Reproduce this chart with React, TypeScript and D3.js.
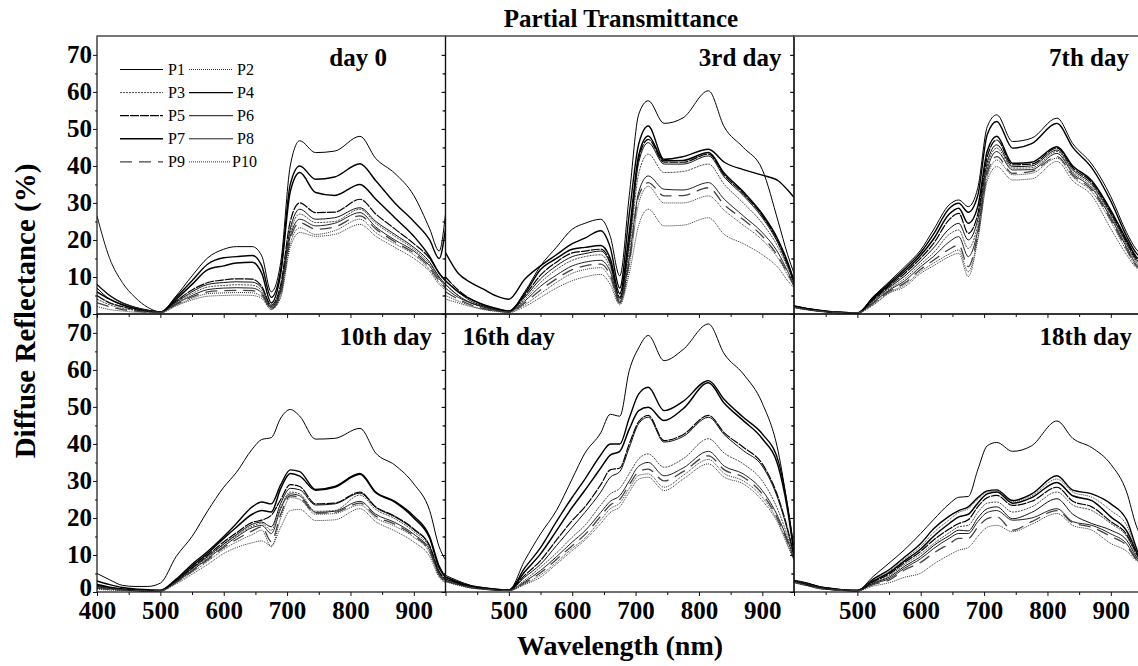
import React, { useEffect, useRef } from 'react';
import * as d3 from 'd3';

// wavelength grid (nm) shared by every spectrum
const wavelengths = [400, 420, 440, 460, 480, 500, 525, 550, 575, 600, 620, 645, 660, 675, 690, 705, 720, 745, 775, 815, 840, 870, 900, 925, 940, 950];

const seriesNames = ['P1', 'P2', 'P3', 'P4', 'P5', 'P6', 'P7', 'P8', 'P9', 'P10'];
const panelTitles = ['day 0', '3rd day', '7th day', '10th day', '16th day', '18th day'];
const yTicks = [0, 10, 20, 30, 40, 50, 60, 70];
const xTicks = [400, 500, 600, 700, 800, 900];

// diffuse reflectance (%) per sample, P1..P10
const day0 = [
  [7, 4, 2.5, 1.5, 0.8, 0.6, 4.9, 10.3, 15.2, 17.5, 18.2, 18.2, 15.7, 6, 14, 40, 46.8, 43.6, 44, 48, 42, 38, 32, 23, 17, 27],
  [2, 1.2, 0.8, 0.5, 0.4, 0.3, 2.2, 3.8, 4.8, 5, 5.1, 5, 4.2, 1.2, 4.5, 18, 22, 21, 21.5, 24.2, 21, 18, 15, 11.5, 8, 6.5],
  [4, 2.5, 1.5, 1, 0.6, 0.4, 3, 5.5, 7.3, 7.7, 7.9, 7.8, 6.3, 1.8, 6.5, 22, 27, 24.7, 25, 28.3, 24.5, 21, 17.5, 13.5, 10, 8],
  [8, 5, 3, 1.8, 1, 0.5, 4.5, 9, 13.5, 15.2, 15.5, 15.8, 13, 4.5, 12, 35, 40, 36.4, 37, 40.6, 36, 30, 25, 20, 15, 23],
  [5, 3, 2, 1.2, 0.7, 0.5, 3.5, 6.5, 8.5, 9.2, 9.5, 9.4, 7.5, 2.4, 8, 25, 30, 27.4, 27.5, 31, 27, 23, 19, 15, 11, 9],
  [26.5, 15, 8.5, 4.5, 1.8, 0.6, 3.2, 6, 8, 8.5, 8.7, 8.6, 7, 2, 7, 23, 28.3, 25.6, 26, 28.7, 25, 21.5, 18, 14, 10, 8],
  [6, 4, 2.5, 1.5, 0.9, 0.5, 4, 8, 12, 13, 13.8, 14, 11, 3, 11, 33, 38.2, 32.8, 32, 35, 31, 26, 21, 15.5, 11, 9],
  [8, 5, 3, 1.8, 1, 0.5, 2.8, 5, 6.6, 7, 7.1, 7, 5.7, 1.6, 6, 21, 25.6, 23.8, 24.5, 27.4, 23.5, 20, 17, 13, 9.5, 7.5],
  [3, 2, 1.2, 0.8, 0.5, 0.4, 2.6, 4.6, 6, 6.3, 6.4, 6.3, 5.2, 1.4, 5.5, 20, 24.7, 22.9, 23.5, 26.5, 23, 19.5, 16.5, 12.5, 9, 7],
  [5, 3, 2, 1.2, 0.7, 0.4, 2.4, 4.2, 5.5, 5.7, 5.8, 5.7, 4.7, 1.3, 5, 19, 23.3, 21.5, 22.5, 25.6, 22, 19, 16, 12, 8.5, 7],
];

const day3 = [
  [8, 5, 3, 2, 1, 0.7, 6, 13, 18, 22.9, 24.5, 25.6, 21, 10.3, 32, 54, 57.6, 51.5, 53, 60.3, 50.5, 45, 39, 25, 16, 11],
  [4, 3, 2, 1.2, 0.7, 0.4, 2, 4.5, 7, 9, 10, 10.7, 8, 2.5, 11, 24, 28.3, 23.8, 24, 26, 21.5, 19, 16, 12.5, 9, 7],
  [8, 5, 3, 2, 1.2, 0.6, 4, 8.5, 12, 14.5, 15.5, 16, 12.5, 3.5, 17, 38, 43.2, 38.2, 38.5, 40.5, 35, 30, 24.5, 18, 12.5, 8.5],
  [16.6, 11, 8.5, 6.7, 4.9, 4, 9.4, 13, 16, 19, 20.5, 22.5, 18, 7, 27, 46, 50.8, 41.8, 42.5, 44.5, 41, 39, 37.5, 36, 33.5, 31.5],
  [10, 6.5, 4, 2.5, 1.5, 0.8, 5, 10.5, 14, 16.5, 17, 17.5, 14, 4.5, 20, 42, 47.2, 41, 41, 43.2, 37.5, 32.5, 26.5, 19.5, 13.5, 9],
  [9, 6, 3.5, 2.2, 1.3, 0.7, 4.5, 9.5, 13, 15.5, 16.3, 17, 13.5, 4, 19, 41, 46.3, 40.5, 40.5, 42.7, 37, 32, 26, 19, 13, 8.5],
  [9, 6, 4, 2.5, 1.5, 0.8, 5.5, 12, 15, 17.5, 18, 18.5, 15, 5.5, 22, 43, 48.1, 41.4, 41.5, 43.6, 38, 33, 27, 20, 14, 9],
  [7, 4.5, 3, 1.8, 1, 0.6, 3.5, 7.5, 10.5, 13, 14, 14.5, 11.5, 3.2, 15, 33, 37.3, 33.7, 33.5, 35.5, 31, 26.5, 22, 16.5, 11.5, 8],
  [6, 4, 2.5, 1.5, 0.9, 0.5, 3, 6.5, 9.5, 12, 13, 13.5, 10.5, 3, 14, 32, 35.5, 31.9, 32, 34.1, 29.5, 25.5, 21, 15.5, 11, 7.5],
  [5, 3.5, 2.2, 1.3, 0.8, 0.5, 2.5, 5.5, 8.5, 11, 12, 12.5, 9.5, 2.8, 13, 30, 34.5, 30, 30, 31.9, 28, 24, 20, 15, 10.5, 7.5],
];

const day7 = [
  [2.2, 1.5, 1, 0.6, 0.4, 0.3, 4.7, 8.7, 12.8, 17.3, 22.7, 29.5, 30.8, 29, 34, 50.6, 53.8, 46.6, 47.5, 52.9, 46, 40.5, 31.7, 22, 17.5, 16],
  [1.7, 1.1, 0.7, 0.4, 0.3, 0.3, 2.4, 5.6, 7.4, 11, 13, 15.5, 16.4, 10.1, 20, 36, 39.8, 36.2, 36.5, 41.2, 36, 32, 23, 16, 12.5, 11.5],
  [1.9, 1.3, 0.8, 0.5, 0.35, 0.3, 3.3, 6.7, 9.6, 13.5, 16.5, 21.5, 22.7, 17.7, 24, 40, 44.8, 39.4, 39.5, 43.9, 38.5, 34.5, 26.5, 18.5, 14, 12.5],
  [2.2, 1.5, 1, 0.6, 0.4, 0.3, 4.5, 8.3, 12.2, 16.6, 21.5, 28.5, 29.9, 27.5, 32, 48.5, 52, 44.8, 46, 51.5, 45, 39.5, 30.5, 21, 16.5, 15],
  [2, 1.4, 0.9, 0.5, 0.4, 0.3, 3.9, 7.5, 11, 15.1, 19, 25.5, 27.2, 21.8, 27, 42.5, 47, 40.3, 40.5, 44.8, 39.5, 35.5, 27.5, 19.5, 15, 13.5],
  [2, 1.3, 0.8, 0.5, 0.35, 0.3, 3.6, 7.1, 10.3, 14.3, 17.8, 23, 24.5, 20, 25.5, 41, 45.7, 39.8, 40, 44.3, 39, 35, 27, 19, 14.5, 13],
  [2, 1.4, 0.9, 0.5, 0.4, 0.3, 4.2, 7.9, 11.6, 15.9, 20.2, 27, 28.6, 24.5, 29, 44, 48, 40.7, 41, 45.2, 40, 36, 28, 20, 15.5, 14],
  [1.9, 1.2, 0.8, 0.5, 0.35, 0.3, 3.1, 6.4, 9, 12.8, 15.5, 19.5, 20.9, 15.5, 22.5, 39, 43.9, 38.9, 39, 43.4, 38, 34, 26, 18, 13.5, 12.5],
  [1.8, 1.2, 0.8, 0.5, 0.3, 0.3, 2.9, 6.1, 8.4, 12.1, 14.5, 17.5, 18.6, 12.8, 21.5, 38, 42.5, 38, 38.5, 42.5, 37.5, 33.5, 25.5, 17.5, 13, 12],
  [1.8, 1.2, 0.7, 0.4, 0.3, 0.3, 2.6, 5.8, 7.9, 11.5, 13.7, 16.2, 17.3, 11.4, 20.5, 37, 41.6, 37.6, 38, 42.1, 37, 33, 25, 17, 13, 12],
];

const day10 = [
  [5, 3.3, 1.8, 1.5, 1.5, 2.4, 9.6, 15, 22, 28.3, 32.3, 38.6, 41.2, 41.7, 47, 49.3, 47.5, 41.3, 41.5, 44.2, 37.5, 34.3, 29.2, 22, 12.2, 8.7],
  [0.8, 0.5, 0.4, 0.3, 0.2, 0.3, 2.2, 4.8, 7.5, 10.4, 12, 13.3, 13.8, 12.5, 17.5, 22, 22.3, 19.3, 19.5, 22.5, 19, 16.5, 13.5, 9.6, 4, 2.4],
  [1.2, 0.8, 0.6, 0.4, 0.3, 0.4, 2.8, 6, 9.3, 12.8, 15.2, 17.8, 18.5, 16.7, 23, 27, 26.5, 21.8, 22, 26.2, 22.3, 19.8, 16.3, 11.8, 5, 3.2],
  [3, 2, 1.2, 0.8, 0.6, 0.5, 3.5, 7.5, 11, 15, 18.5, 23, 24.3, 23.8, 29, 33, 32.5, 27.7, 28.5, 32, 27, 24.5, 20.5, 15, 7, 4],
  [1.5, 1, 0.7, 0.5, 0.4, 0.4, 3, 6.5, 10, 13.5, 16, 18.8, 19.4, 20.7, 25, 29, 28.5, 23.8, 24, 27, 23, 20.5, 17, 12.5, 5.5, 3.5],
  [1.8, 1.2, 0.8, 0.5, 0.4, 0.4, 2.9, 6.3, 9.6, 13, 15.5, 18.3, 18.9, 17.6, 24, 28, 27.6, 23.5, 23.8, 26.7, 22.8, 20.3, 16.8, 12.3, 5.3, 3.3],
  [2, 1.3, 0.8, 0.5, 0.4, 0.4, 3.2, 7, 10.5, 14.5, 17.5, 21, 22, 21.6, 28, 32, 31.3, 27.5, 28.3, 31.8, 26.8, 24.3, 20, 14.5, 6.5, 4],
  [1.5, 1, 0.6, 0.4, 0.3, 0.4, 2.7, 5.8, 9, 12.4, 14.8, 17.4, 18, 15.8, 22.5, 26.5, 26, 21.5, 21.8, 24.5, 21, 18.8, 15.6, 11.3, 4.8, 3],
  [1, 0.7, 0.5, 0.4, 0.3, 0.3, 2.6, 5.6, 8.7, 12, 14.2, 16.5, 17.6, 13.6, 21, 26, 25.5, 21.3, 21.5, 24, 20.5, 18.3, 15.2, 11, 4.6, 2.8],
  [1.3, 0.8, 0.5, 0.3, 0.3, 0.3, 2.5, 5.3, 8.3, 11.5, 13.5, 15.5, 16.7, 12.2, 20, 25.5, 25, 21, 21.2, 23.5, 20, 17.8, 14.8, 10.6, 4.4, 2.6],
];

const day16 = [
  [4.5, 3, 1.8, 1.2, 0.8, 0.6, 8.5, 15.7, 22, 30.6, 37.5, 43, 48, 47.5, 59.8, 66, 69.3, 62.5, 65.5, 72.4, 64.3, 58.9, 51, 38, 23, 12],
  [2.8, 1.8, 1.1, 0.7, 0.5, 0.4, 2, 4, 7.5, 11.2, 14, 18.5, 21.5, 23, 27, 30.5, 31, 27.4, 30.5, 34.6, 31, 29.2, 24.7, 18.5, 12.5, 8.5],
  [3.2, 2.1, 1.3, 0.9, 0.6, 0.5, 3.2, 6.7, 10.5, 14.8, 18, 23.5, 26.5, 28, 32, 36, 37.3, 33.7, 36, 41.4, 37.5, 34.6, 30, 22, 15, 9.5],
  [4, 2.7, 1.6, 1.1, 0.7, 0.5, 6.5, 12, 19, 25.6, 30.5, 37, 40, 40, 47, 53.5, 55.3, 49, 51.5, 57.1, 52, 47.2, 42.7, 35.5, 23, 11],
  [3.5, 2.3, 1.4, 1, 0.6, 0.5, 4.5, 8.5, 14, 19.3, 23, 29, 33, 33.5, 40, 46, 47.7, 40.9, 42.5, 47.7, 43, 39.1, 34.6, 25.6, 17, 10],
  [3.5, 2.2, 1.3, 0.9, 0.6, 0.5, 4, 7.5, 12.5, 17.5, 21.5, 27, 31, 32.5, 39, 45.5, 47.2, 40.5, 42, 47.2, 42.5, 38.2, 34, 25, 16.5, 9.5],
  [4, 2.5, 1.5, 1, 0.7, 0.5, 5.5, 10.3, 16.5, 22.9, 27.5, 33.5, 37, 38, 44, 49, 49.9, 46.3, 49.5, 56.5, 51, 46.3, 41.4, 34, 22, 10.5],
  [3, 2, 1.2, 0.8, 0.5, 0.4, 2.8, 5.8, 9.5, 13.5, 16.5, 21.5, 24.5, 26, 30, 34, 35, 31.4, 33.5, 38, 34, 31.9, 27.4, 20.2, 14, 9],
  [3, 2, 1.2, 0.8, 0.5, 0.4, 2.5, 5.2, 8.8, 12.5, 15.5, 20.5, 23.5, 25, 29, 32.5, 33.2, 30, 32.5, 36.8, 33, 31, 26.5, 19.5, 13.5, 9],
  [2.8, 1.9, 1.1, 0.7, 0.5, 0.4, 2.2, 4.6, 8, 11.8, 14.5, 19.5, 22.5, 24, 28, 31.5, 31.9, 28.3, 31.5, 35.8, 32, 30, 25.6, 19, 13, 8.7],
];

const day18 = [
  [3.2, 2.5, 1.5, 1, 0.6, 0.5, 4.2, 7.8, 11.5, 15.8, 19.5, 23.8, 25.6, 25.8, 33, 39.5, 40.4, 38, 39.5, 46.2, 41.5, 39, 34.5, 27, 18, 14],
  [2.5, 1.7, 0.9, 0.6, 0.3, 0.3, 1.6, 2.5, 4, 5.1, 7.5, 10, 11.3, 12, 15, 17.5, 18, 16.3, 18.3, 21.2, 18, 16.7, 13.1, 11, 8.5, 7],
  [2.7, 2, 1.1, 0.7, 0.4, 0.3, 2.6, 4.4, 7.5, 10.3, 13, 16, 17.6, 18, 21.5, 24, 24.3, 21.6, 23, 27, 23.5, 22, 18.5, 15, 10, 7.2],
  [3, 2.3, 1.4, 0.9, 0.5, 0.4, 3.5, 6, 9.5, 13.1, 17, 20.5, 22, 23, 25.5, 27.3, 27.6, 24.7, 26.5, 31.4, 27.5, 26.5, 23.8, 19.5, 12, 7.5],
  [2.8, 2, 1.2, 0.7, 0.4, 0.4, 2.8, 4.8, 8, 11, 14, 17, 18.5, 19.5, 23, 25.5, 26.1, 23.4, 24.5, 28.3, 24.5, 23, 19, 15.5, 10.5, 7.3],
  [2.7, 1.9, 1.1, 0.7, 0.4, 0.3, 2.4, 4, 7, 9.6, 12.5, 15.2, 16.7, 16.5, 20, 22.5, 23, 19.8, 21.5, 25.2, 21, 18.5, 16.7, 14, 9.5, 7.2],
  [2.8, 2.1, 1.2, 0.8, 0.5, 0.4, 3, 5.2, 8.5, 11.6, 15, 18.5, 20.3, 21, 24, 26.5, 27, 24, 25.5, 29.6, 26, 24.7, 20.3, 16.5, 11, 7.3],
  [2.6, 1.8, 1, 0.6, 0.4, 0.3, 2.2, 3.6, 6.5, 9, 11.7, 14.5, 15.8, 15.8, 19, 21.5, 22, 19.4, 20, 22.5, 19, 18, 15.7, 13, 9, 7],
  [2.6, 1.8, 1, 0.6, 0.4, 0.3, 2, 3.2, 6, 8, 10.5, 13, 14.5, 14.5, 17.5, 19.8, 20.3, 16.7, 19, 22, 18.7, 17.5, 15, 12.5, 8.8, 7],
  [3, 2.2, 1.3, 0.8, 0.5, 0.4, 3.2, 5.6, 9, 12.3, 16, 19.5, 21.5, 22.5, 25, 27, 27.3, 24.5, 26, 30.5, 27, 25.6, 22, 18, 11.5, 7.5],
];

const panelData = [day0, day3, day7, day10, day16, day18];

// line look for P1..P10
const lineStyles = [
  { color: '#000', width: 1.0, dash: null },
  { color: '#333', width: 1.0, dash: '1,1' },
  { color: '#333', width: 0.9, dash: '2,1' },
  { color: '#000', width: 1.4, dash: null },
  { color: '#000', width: 1.2, dash: '9,1' },
  { color: '#111', width: 1.0, dash: null },
  { color: '#000', width: 1.5, dash: null },
  { color: '#222', width: 1.0, dash: null },
  { color: '#444', width: 1.3, dash: '12,7' },
  { color: '#333', width: 1.0, dash: '1,1' },
];

const FONT = "'Liberation Serif', 'Times New Roman', Times, serif";

const App = () => {
  const svgRef = useRef<SVGSVGElement | null>(null);

  useEffect(() => {
    if (!svgRef.current) return;
    const svg = d3.select(svgRef.current);
    svg.selectAll('*').remove();

    const width = 1138;
    const height = 666;
    const plotLeft = 97;
    const panelW = 348.5;
    const panelH = 278;
    const rowTops = [36, 314];

    svg.attr('width', width).attr('height', height);

    // title placement per panel (anchor and offset from panel edge)
    const titleAnchor = ['end', 'end', 'end', 'end', 'start', 'end'];
    const titleDx = [-58.5, -12.5, -13.5, -13.5, 17, -10.5];

    panelData.forEach((series, i) => {
      const col = i % 3;
      const row = Math.floor(i / 3);
      const x0 = plotLeft + col * panelW;
      const x1 = x0 + panelW;
      const yTop = rowTops[row];
      const yBot = yTop + panelH;

      const x = d3.scaleLinear().domain([400, 950]).range([x0, x1]);
      const y = d3.scaleLinear().domain([0, 75.1]).range([yBot, yTop]);

      const clipId = `clip-${i}`;
      svg.append('clipPath').attr('id', clipId)
        .append('rect')
        .attr('x', x0).attr('y', yTop)
        .attr('width', panelW).attr('height', panelH);

      const line = d3.line<number>()
        .x((d, j) => x(wavelengths[j]))
        .y(d => y(d))
        .curve(d3.curveMonotoneX);

      const g = svg.append('g').attr('clip-path', `url(#${clipId})`);
      series.forEach((vals, k) => {
        const st = lineStyles[k];
        g.append('path')
          .attr('d', line(vals))
          .attr('fill', 'none')
          .attr('stroke', st.color)
          .attr('stroke-width', st.width)
          .attr('stroke-dasharray', st.dash)
          .attr('stroke-linejoin', 'round');
      });

      // frame
      svg.append('rect')
        .attr('x', x0).attr('y', yTop)
        .attr('width', panelW).attr('height', panelH)
        .attr('fill', 'none')
        .attr('stroke', '#111')
        .attr('stroke-width', 1.2);
      if (row === 0) {
        svg.append('line')
          .attr('x1', x0).attr('x2', x1)
          .attr('y1', yTop).attr('y2', yTop)
          .attr('stroke', '#777').attr('stroke-width', 1.4);
      }

      // y axis: minor + major ticks
      const yMinor = svg.append('g').attr('transform', `translate(${x0},0)`)
        .call(d3.axisLeft(y).tickValues(d3.range(5, 75, 10)).tickSize(2).tickFormat(() => ''));
      yMinor.select('.domain').remove();

      const yMajor = svg.append('g').attr('transform', `translate(${x0},0)`)
        .call(d3.axisLeft(y).tickValues(yTicks).tickSize(4).tickPadding(1)
          .tickFormat(col === 0 ? (d => String(d)) : () => ''));
      yMajor.select('.domain').remove();
      // the zero label sits a little above its tick, as in the original
      yMajor.selectAll('text').filter(d => d === 0).attr('dy', '0.12em');

      // ticks on right frame, pointing inward
      const yRight = svg.append('g').attr('transform', `translate(${x1},0)`)
        .call(d3.axisLeft(y).tickValues(d3.range(5, 75, 5)).tickSize(3).tickFormat(() => ''));
      yRight.select('.domain').remove();

      // x axis
      const xMinor = svg.append('g').attr('transform', `translate(0,${yBot})`)
        .call(d3.axisBottom(x).tickValues(d3.range(450, 950, 100)).tickSize(3).tickFormat(() => ''));
      xMinor.select('.domain').remove();

      const shownX = col === 0 ? xTicks : xTicks.filter(t => t !== 400);
      const xMajor = svg.append('g').attr('transform', `translate(0,${yBot})`)
        .call(d3.axisBottom(x).tickValues(xTicks).tickSize(4).tickPadding(5)
          .tickFormat(d => (row === 1 && shownX.includes(d as number)) ? String(d) : ''));
      xMajor.select('.domain').remove();

      [yMinor, yMajor, yRight, xMinor, xMajor].forEach(ax => {
        ax.selectAll('line').attr('stroke', '#111').attr('stroke-width', 1);
        ax.selectAll('text')
          .attr('fill', '#000')
          .style('font-family', FONT)
          .style('font-size', '25px')
          .style('font-weight', 'bold');
      });

      // panel title
      const anchor = titleAnchor[i];
      svg.append('text')
        .attr('x', anchor === 'end' ? x1 + titleDx[i] : x0 + titleDx[i])
        .attr('y', row === 0 ? 66 : 345)
        .attr('text-anchor', anchor)
        .style('font-family', FONT)
        .style('font-size', '25px')
        .style('font-weight', 'bold')
        .text(panelTitles[i]);
    });

    // legend inside day 0 panel
    const legend = svg.append('g');
    seriesNames.forEach((name, k) => {
      const r = Math.floor(k / 2);
      const c = k % 2;
      const cy = 69.5 + r * 23.1;
      const lx1 = c === 0 ? 120 : 189;
      const lx2 = c === 0 ? 163 : (k === 9 ? 231 : 233);
      const tx = c === 0 ? 168 : (k === 9 ? 232 : 237);
      const st = lineStyles[k];
      legend.append('line')
        .attr('x1', lx1).attr('x2', lx2)
        .attr('y1', cy).attr('y2', cy)
        .attr('stroke', st.color)
        .attr('stroke-width', st.width)
        .attr('stroke-dasharray', st.dash);
      legend.append('text')
        .attr('x', tx).attr('y', cy + 5.5)
        .style('font-family', FONT)
        .style('font-size', '16px')
        .text(name);
    });

    // main title and axis labels
    svg.append('text')
      .attr('x', 621).attr('y', 27)
      .attr('text-anchor', 'middle')
      .style('font-family', FONT).style('font-size', '25px').style('font-weight', 'bold')
      .text('Partial Transmittance');

    svg.append('text')
      .attr('x', 620).attr('y', 655)
      .attr('text-anchor', 'middle')
      .style('font-family', FONT).style('font-size', '28px').style('font-weight', 'bold')
      .text('Wavelength (nm)');

    svg.append('text')
      .attr('transform', 'rotate(-90)')
      .attr('x', -311).attr('y', 35)
      .attr('text-anchor', 'middle')
      .style('font-family', FONT).style('font-size', '29px').style('font-weight', 'bold')
      .text('Diffuse Reflectance (%)');
  }, []);

  return (
    <svg
      ref={svgRef}
      style={{ position: 'absolute', left: 0, top: 0, display: 'block', background: '#fff' }}
    />
  );
};

export default App;
